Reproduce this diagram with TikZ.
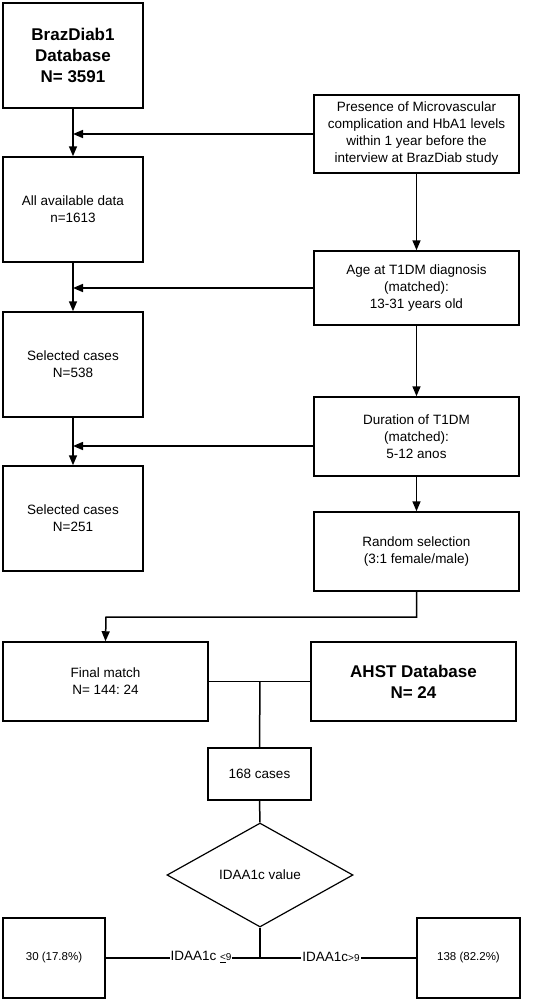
\documentclass[tikz,border=0pt]{standalone}
\usepackage{fontspec}
\setmainfont{Liberation Sans}
\usetikzlibrary{arrows.meta,shapes.geometric}
\frenchspacing
\begin{document}
\begin{tikzpicture}[x=1pt,y=-1pt,
  box/.style={draw,line width=1.5pt,rectangle,inner sep=0pt,align=center,
    font=\fontsize{13.5}{17}\selectfont},
  bigtxt/.style={font=\fontsize{17}{21}\selectfont\bfseries},
  smalltxt/.style={font=\fontsize{11.5}{14}\selectfont},
  conn/.style={line width=1.5pt},
  arr/.style={conn,-{Triangle[length=10pt,width=8pt]}},
  lbl/.style={fill=white,inner sep=1pt,font=\fontsize{13.5}{17}\selectfont}]
\useasboundingbox (0,0) rectangle (536,1001);
\fill[white] (0,0) rectangle (536,1001);
% left column
\node[box,bigtxt,minimum width=140pt,minimum height=105pt] (db1) at (73,55.5) {BrazDiab1\\Database\\N= 3591};
\node[box,minimum width=140pt,minimum height=105pt] (avail) at (73,209.5) {All available data\\n=1613};
\node[box,minimum width=140pt,minimum height=105pt] (sel1) at (73,364.5) {Selected cases\\N=538};
\node[box,minimum width=140pt,minimum height=105pt] (sel2) at (73,518.5) {Selected cases\\N=251};
% right column
\node[box,minimum width=205pt,minimum height=78pt] (pres) at (416.5,134) {Presence of Microvascular\\complication and HbA1 levels\\within 1 year before the\\interview at BrazDiab study};
\node[box,minimum width=205pt,minimum height=74pt] (age) at (416.5,288) {Age at T1DM diagnosis\\(matched):\\13-31 years old};
\node[box,minimum width=205pt,minimum height=79pt] (dur) at (416.5,436.5) {Duration of T1DM\\(matched):\\5-12 anos};
\node[box,minimum width=205pt,minimum height=79pt] (rand) at (416.5,551.5) {Random selection\\(3:1 female/male)};
% lower part
\node[box,minimum width=205pt,minimum height=79pt] (final) at (105.5,681.5) {Final match\\N= 144: 24};
\node[box,bigtxt,minimum width=205pt,minimum height=79pt] (ahst) at (413.5,681.5) {AHST Database\\N= 24};
\node[box,minimum width=103pt,minimum height=52pt] (cases) at (259.5,774) {168 cases};
\node[draw,line width=1.2pt,diamond,inner sep=0pt,minimum width=186pt,minimum height=104pt,aspect=1.79,
  font=\fontsize{13.5}{17}\selectfont] (dia) at (260,875) {IDAA1c value};
\node[box,smalltxt,minimum width=102pt,minimum height=80pt] (low) at (54,958) {30 (17.8\%)};
\node[box,smalltxt,minimum width=103pt,minimum height=80pt] (high) at (468.5,958) {138 (82.2\%)};
% coordinates
\coordinate (j1) at (73,134);
\coordinate (j2) at (73,288);
\coordinate (j3) at (73,446);
\coordinate (d3) at (314,446);
\coordinate (r1) at (416.5,617);
\coordinate (r2) at (106,617);
\coordinate (m1) at (260,681.5);
\coordinate (b1) at (260,957);
% connectors
\draw[arr] (db1.south) -- (avail.north);
\draw[arr] (avail.south) -- (sel1.north);
\draw[arr] (sel1.south) -- (sel2.north);
\draw[arr] (pres.west) -- (j1);
\draw[arr] (age.west) -- (j2);
\draw[arr] (d3) -- (j3);
\draw[arr] (pres.south) -- (age.north);
\draw[arr] (age.south) -- (dur.north);
\draw[arr] (dur.south) -- (rand.north);
\draw[arr] (rand.south) -- (r1) -- (r2) -- (final.north);
\draw[conn] (final.east) -- (ahst.west);
\draw[conn] (m1) -- (cases.north);
\draw[conn] (cases.south) -- (dia.north);
\draw[conn] (dia.south) -- (b1);
\draw[conn] (low.east) -- (high.west);
\node[lbl] (l1) at (201,957) {IDAA1c {\fontsize{10}{11}\selectfont\underline{<}9}};
\node[lbl] (l2) at (331,957) {IDAA1c{\fontsize{10}{11}\selectfont>9}};
\end{tikzpicture}
\end{document}
